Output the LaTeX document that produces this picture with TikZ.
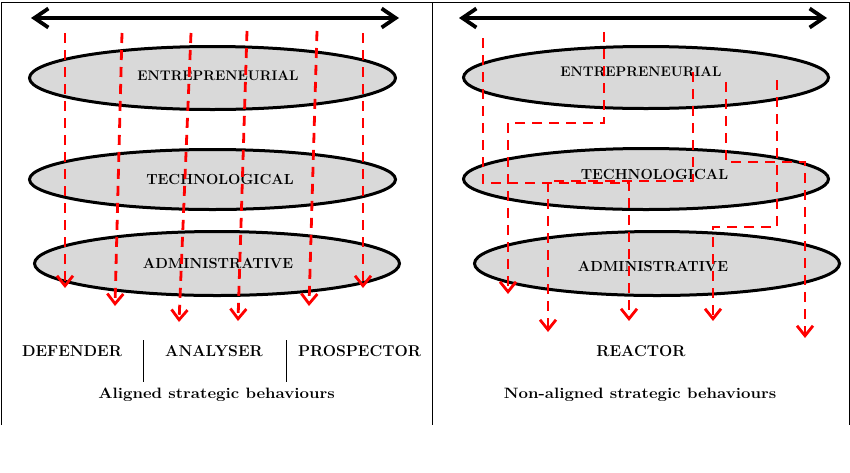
\documentclass[tikz,border=0pt]{standalone}
\usepackage{fontspec}
\usetikzlibrary{arrows.meta,shapes.geometric}
\begin{document}
\begin{tikzpicture}[x=1pt,y=-1pt,
  layer/.style={ellipse,draw=black,line width=3pt,fill=layergray,inner sep=0pt,outer sep=0pt},
  lbl/.style={font=\fontsize{14.6}{16}\selectfont\bfseries,inner sep=0pt},
  lblw/.style={font=\fontsize{13.9}{16}\selectfont\bfseries,inner sep=0pt},
  bot/.style={font=\fontsize{15.7}{17}\selectfont\bfseries,inner sep=0pt},
  captext/.style={font=\fontsize{15}{17}\selectfont\bfseries,inner sep=0pt,transform shape,xscale=1.12},
  span/.style={line width=3.8pt,{Straight Barb[length=14pt,width=19pt]}-{Straight Barb[length=14pt,width=19pt]}},
  flow/.style={draw=red,line width=2.8pt,dash pattern=on 10pt off 7pt,miter limit=10,-{Straight Barb[length=10pt,width=16pt]}},
  frame/.style={line width=1pt}]
\definecolor{layergray}{HTML}{D9D9D9}
\useasboundingbox (0,0) rectangle (850,472);
% frame
\coordinate (tl) at (1,2); \coordinate (tm) at (432,2); \coordinate (tr) at (849,2);
\coordinate (bl) at (1,425); \coordinate (bm) at (432,425); \coordinate (br) at (849,425);
\draw[frame] (bl) -- (tl) -- (tr) -- (br);
\draw[frame] (tm) -- (bm);
% double arrows
\coordinate (la) at (31,18); \coordinate (lb) at (399,18);
\coordinate (ra) at (459,18); \coordinate (rb) at (827,18);
\draw[span] (la) -- (lb);
\draw[span] (ra) -- (rb);
% left ellipses
\node[layer,minimum width=366pt,minimum height=63pt] (e1) at (212.5,78) {};
\node[layer,minimum width=366pt,minimum height=60pt] (e2) at (212.5,179.5) {};
\node[layer,minimum width=365pt,minimum height=64pt] (e3) at (217,263.5) {};
\node[lblw] (t1) at (218,76) {ENTREPRENEURIAL};
\node[lbl] (t2) at (220,179) {TECHNOLOGICAL};
\node[lbl] (t3) at (218,263) {ADMINISTRATIVE};
% right ellipses
\node[layer,minimum width=365pt,minimum height=62pt] (f1) at (646,77.5) {};
\node[layer,minimum width=365pt,minimum height=61pt] (f2) at (646,179) {};
\node[layer,minimum width=365pt,minimum height=64pt] (f3) at (657,263.5) {};
\node[lblw] (u1) at (641,72) {ENTREPRENEURIAL};
\node[lbl] (u2) at (654.5,174) {TECHNOLOGICAL};
\node[lbl] (u3) at (653,266) {ADMINISTRATIVE};
% left flows
\coordinate (s1) at (65,33);  \coordinate (d1) at (65,288);
\coordinate (s2) at (122,33); \coordinate (d2) at (115,306);
\coordinate (s3) at (191,33); \coordinate (d3) at (179,322);
\coordinate (s4) at (247,31); \coordinate (d4) at (238,321);
\coordinate (s5) at (317,31); \coordinate (d5) at (309,306);
\coordinate (s6) at (363,33); \coordinate (d6) at (363,288);
\draw[flow] (s1) -- (d1);
\draw[flow] (s2) -- (d2);
\draw[flow] (s3) -- (d3);
\draw[flow] (s4) -- (d4);
\draw[flow] (s5) -- (d5);
\draw[flow] (s6) -- (d6);
% right flows
\coordinate (ra1) at (483,38);  \coordinate (ra2) at (483,183); \coordinate (ra3) at (629,183); \coordinate (rad) at (629,321);
\coordinate (rb1) at (693,72);  \coordinate (rb2) at (693,181); \coordinate (rb3) at (548,181); \coordinate (rbd) at (548,332);
\coordinate (rc1) at (604,32);  \coordinate (rc2) at (604,123); \coordinate (rc3) at (508,123); \coordinate (rcd) at (508,294);
\coordinate (rd1) at (726,82);  \coordinate (rd2) at (726,162); \coordinate (rd3) at (805,162); \coordinate (rdd) at (805,338);
\coordinate (re1) at (777,80);  \coordinate (re2) at (777,227); \coordinate (re3) at (713,227); \coordinate (red) at (713,321);
\draw[flow] (ra1) -- (ra2) -- (ra3) -- (rad);
\draw[flow] (rb1) -- (rb2) -- (rb3) -- (rbd);
\draw[flow] (rc1) -- (rc2) -- (rc3) -- (rcd);
\draw[flow] (rd1) -- (rd2) -- (rd3) -- (rdd);
\draw[flow] (re1) -- (re2) -- (re3) -- (red);
% bottom labels
\node[bot] (def) at (72,351) {DEFENDER};
\node[bot] (ana) at (214,351) {ANALYSER};
\node[bot] (pro) at (359.5,351) {PROSPECTOR};
\node[bot] (rea) at (641,351) {REACTOR};
\coordinate (k1a) at (143,340); \coordinate (k1b) at (143,382);
\coordinate (k2a) at (286,340); \coordinate (k2b) at (286,382);
\draw[frame] (k1a) -- (k1b);
\draw[frame] (k2a) -- (k2b);
\node[captext] (al) at (216.5,395) {Aligned strategic behaviours};
\node[captext] (na) at (640,395) {Non-aligned strategic behaviours};
\end{tikzpicture}
\end{document}
